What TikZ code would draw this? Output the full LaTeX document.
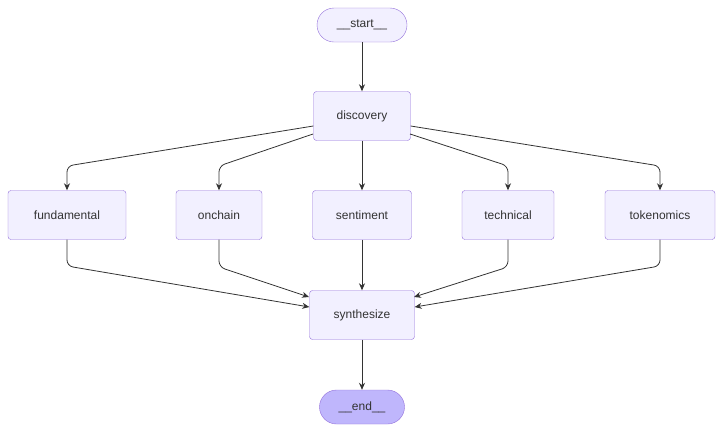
\documentclass[tikz,border=0pt]{standalone}
\usepackage{fontspec}
\setmainfont{Liberation Sans}
\usetikzlibrary{arrows.meta,calc}
\definecolor{boxfill}{HTML}{F2F0FF}
\definecolor{boxline}{HTML}{9370DB}
\definecolor{endfill}{HTML}{BFB6FC}
\definecolor{ink}{HTML}{333333}
\begin{document}
\begin{tikzpicture}[x=1pt,y=-1pt,
  every node/.style={font=\fontsize{12}{14}\selectfont, text=ink},
  box/.style={draw=boxline, fill=boxfill, rounded corners=3pt, minimum height=49pt, inner sep=0pt},
  pill/.style={draw=boxline, fill=boxfill, rounded corners=17pt, minimum height=34pt, inner sep=0pt},
  flow/.style={draw=ink, line width=0.8pt, rounded corners=6pt, -{Stealth[length=7pt,width=6pt]}}]
  \useasboundingbox (0,0) rectangle (724,432);

  % Nodes
  \node[pill, minimum width=90pt] (start) at (362,25) {\_\_start\_\_};
  \node[box, minimum width=97pt] (discovery) at (362,116) {discovery};
  \node[box, minimum width=118pt] (fundamental) at (67,215) {fundamental};
  \node[box, minimum width=86pt] (onchain) at (219,215) {onchain};
  \node[box, minimum width=99pt] (sentiment) at (362,215) {sentiment};
  \node[box, minimum width=92pt] (technical) at (508,215) {technical};
  \node[box, minimum width=110pt] (tokenomics) at (660,215) {tokenomics};
  \node[box, minimum width=105pt] (synthesize) at (362,315) {synthesize};
  \node[pill, minimum width=85pt, fill=endfill] (end) at (362,407) {\_\_end\_\_};

  % Edges from discovery
  \draw[flow] (start) -- (discovery);
  \draw[flow] (discovery.west |- 0,126) -- (67,166) -- (fundamental.north);
  \draw[flow] (313,134) -- (219,166) -- (onchain.north);
  \draw[flow] (discovery) -- (sentiment);
  \draw[flow] (410,134) -- (508,166) -- (technical.north);
  \draw[flow] (discovery.east |- 0,126) -- (660,166) -- (tokenomics.north);

  % Edges into synthesize
  \draw[flow] (fundamental.south) -- (67,266) -- (synthesize.west |- 0,307);
  \draw[flow] (onchain.south) -- (219,267) -- (309,297);
  \draw[flow] (sentiment) -- (synthesize);
  \draw[flow] (technical.south) -- (508,267) -- (414,297);
  \draw[flow] (tokenomics.south) -- (660,266) -- (synthesize.east |- 0,307);
  \draw[flow] (synthesize) -- (end);
\end{tikzpicture}
\end{document}
